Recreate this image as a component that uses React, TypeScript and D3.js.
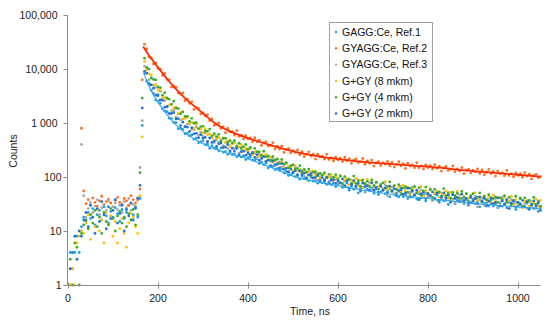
import React from 'react';
import * as d3 from 'd3';

// sampling grid of the decay curves, ns
const times = d3.range(0, 1051, 5);

const seriesNames = ['GAGG:Ce, Ref.1', 'GYAGG:Ce, Ref.2', 'GYAGG:Ce, Ref.3', 'G+GY (8 mkm)', 'G+GY (4 mkm)', 'G+GY (2 mkm)'];
const seriesColors = ['#1fa0e6', '#ff6d1f', '#a8a8a8', '#ffc000', '#3aad2c', '#2372d6'];

const gaggRef1 = [
  null, 4, 2, 4, 8, 4, 12, 18, 15, 22, 17, 26, 13, 20, 24, 16, 28, 19, 14, 23, 18, 27, 21, 15, 25, 17, 22, 30, 16, 20, 26, 18, 40, 900,
  8220, 5950, 5430, 4030, 3550, 2670, 2550, 2330, 1825, 1670,
  1620, 1230, 1210, 1020, 1020, 785, 800, 764, 633, 644,
  581, 599, 499, 523, 432, 447, 466, 397, 405, 340,
  382, 342, 342, 306, 346, 289, 296, 263, 288, 261,
  269, 238, 266, 235, 245, 210, 227, 233, 205, 206,
  220, 178, 188, 170, 182, 147, 158, 157, 137, 143,
  133, 140, 119, 127, 107, 111, 117, 102, 106, 91,
  104, 94, 95, 86, 98, 83, 86, 77, 86, 78,
  82, 73, 82, 72, 77, 66, 72, 78, 64, 66,
  77, 57, 67, 59, 69, 51, 61, 64, 53, 60,
  56, 63, 50, 60, 47, 53, 60, 49, 55, 43,
  55, 48, 50, 43, 55, 43, 47, 40, 49, 43,
  47, 39, 49, 41, 46, 36, 42, 45, 37, 39,
  46, 34, 40, 36, 42, 31, 37, 39, 32, 37,
  35, 40, 32, 38, 30, 34, 39, 32, 35, 28,
  36, 32, 33, 29, 37, 29, 32, 27, 33, 29,
  32, 27, 34, 29, 32, 25, 30, 32, 27, 28,
  33, 25, 29, 26, 31, 23, 27,
];

const gyaggRef2 = [
  null, null, null, null, null, null, 800, 55, 32, 38, 30, 41, 34, 29, 36, 44, 31, 35, 39, 33, 28, 37, 42, 34, 31, 40, 36, 30, 45, 38, 33, 41, 60, 6300,
  29000, 23460, 16730, 16010, 12420, 13000, 10380, 9890, 7640, 8290,
  6400, 6300, 4620, 4800, 4600, 3600, 3435, 3600, 2590, 2756,
  2310, 2464, 1780, 1930, 1866, 1479, 1545, 1362, 1432, 1107,
  1188, 908, 944, 1001, 799, 843, 660, 795, 686, 694,
  597, 720, 567, 594, 506, 581, 509, 532, 451, 533,
  448, 480, 385, 432, 449, 376, 385, 431, 330, 371,
  330, 373, 285, 326, 335, 279, 308, 286, 316, 259,
  294, 238, 263, 292, 244, 265, 215, 265, 235, 243,
  214, 263, 212, 227, 198, 232, 208, 223, 193, 233,
  200, 218, 179, 205, 217, 185, 193, 220, 173, 198,
  179, 206, 159, 185, 193, 164, 183, 173, 195, 162,
  187, 153, 171, 192, 161, 177, 144, 180, 161, 168,
  149, 184, 149, 161, 141, 167, 150, 162, 140, 169,
  145, 158, 129, 148, 157, 133, 140, 160, 125, 142,
  129, 149, 115, 134, 139, 118, 133, 125, 141, 117,
  135, 110, 123, 138, 116, 127, 104, 129, 115, 119,
  106, 132, 107, 115, 101, 119, 107, 114, 99, 121,
  104, 113, 92, 106, 112, 97, 101,
];

const gyaggRef3 = [
  null, null, null, null, null, null, 400, 45, 18, 26, 34, 22, 29, 38, 20, 27, 31, 24, 36, 19, 28, 33, 25, 30, 22, 35, 27, 40, 24, 31, 29, 37, 150, 1100,
  11340, 10130, 6345, 6847, 4960, 4538, 3406, 3876, 2652, 2580,
  1953, 2146, 1699, 1685, 1295, 1487, 1140, 1178, 855, 951,
  957, 754, 755, 838, 595, 674, 575, 653, 460, 536,
  543, 435, 486, 441, 492, 382, 440, 336, 375, 419,
  334, 363, 277, 354, 303, 313, 266, 337, 258, 275,
  228, 268, 228, 240, 197, 239, 194, 209, 159, 182,
  190, 153, 156, 177, 128, 146, 126, 147, 106, 126,
  131, 105, 119, 110, 124, 98, 114, 88, 100, 113,
  91, 100, 78, 99, 86, 90, 77, 107, 74, 83,
  65, 88, 72, 82, 63, 88, 67, 80, 55, 71,
  79, 59, 64, 80, 52, 67, 56, 72, 45, 60,
  65, 48, 58, 54, 66, 47, 62, 43, 52, 64,
  48, 56, 38, 57, 47, 50, 41, 60, 41, 48,
  37, 51, 42, 48, 37, 52, 40, 47, 33, 42,
  47, 36, 39, 49, 32, 41, 35, 44, 28, 38,
  41, 30, 38, 35, 42, 31, 40, 28, 34, 42,
  31, 37, 26, 38, 32, 34, 28, 41, 28, 32,
  26, 35, 29, 33, 26, 36, 28,
];

const ggy8 = [
  null, 1, 2, 1, 6, 8, 10, 9, 14, 20, 7, 18, 12, 25, 10, 16, 6, 22, 13, 19, 8, 15, 6, 11, 17, 9, 5, 14, 21, 18, 12, 9, 45, 550,
  13850, 9594, 8138, 7797, 5092, 5132, 4081, 4168, 2851, 2986,
  2791, 2162, 2191, 1901, 1961, 1485, 1563, 1179, 1213, 1270,
  999, 1033, 794, 931, 785, 781, 661, 783, 605, 626,
  526, 599, 520, 540, 454, 529, 439, 466, 369, 412,
  425, 352, 358, 400, 305, 342, 303, 340, 258, 292,
  296, 242, 262, 239, 261, 209, 234, 185, 201, 217,
  177, 188, 148, 178, 154, 155, 133, 163, 129, 137,
  118, 136, 121, 127, 109, 130, 109, 118, 95, 108,
  113, 95, 99, 110, 86, 98, 88, 106, 70, 88,
  94, 72, 87, 79, 94, 70, 87, 63, 76, 90,
  69, 79, 56, 80, 67, 71, 58, 82, 59, 66,
  54, 69, 58, 65, 52, 70, 55, 64, 46, 58,
  64, 50, 53, 66, 44, 56, 47, 59, 39, 51,
  54, 42, 50, 46, 55, 41, 52, 37, 45, 54,
  41, 48, 34, 49, 41, 44, 36, 51, 37, 42,
  34, 44, 37, 42, 34, 46, 36, 42, 30, 38,
  42, 33, 36, 44, 30, 38, 32, 40, 27, 35,
  37, 29, 35, 32, 39, 29, 37,
];

const ggy4 = [
  null, 3, 1, 6, 5, 1, 9, 13, 16, 11, 20, 14, 24, 12, 18, 9, 22, 15, 13, 26, 17, 10, 19, 23, 14, 18, 12, 21, 16, 25, 13, 20, 120, 2900,
  15870, 10663, 9960, 6820, 6400, 6302, 4654, 4527, 3265, 3644,
  2914, 2774, 2227, 2536, 1885, 1847, 1473, 1601, 1326, 1327,
  1075, 1223, 990, 1020, 785, 860, 869, 708, 704, 771,
  578, 638, 557, 618, 463, 519, 522, 431, 469, 429,
  469, 377, 422, 337, 366, 400, 329, 352, 279, 338,
  292, 293, 250, 300, 236, 245, 207, 237, 207, 214,
  180, 211, 175, 185, 147, 162, 167, 141, 144, 162,
  125, 139, 124, 140, 107, 122, 125, 105, 117, 108,
  120, 98, 112, 90, 99, 110, 92, 103, 75, 102,
  86, 91, 76, 104, 76, 84, 68, 88, 75, 83,
  67, 88, 70, 80, 59, 73, 78, 62, 67, 81,
  56, 69, 59, 72, 49, 62, 66, 52, 62, 57,
  67, 51, 63, 46, 55, 65, 50, 58, 42, 59,
  50, 53, 44, 61, 45, 49, 41, 52, 45, 50,
  40, 54, 43, 49, 36, 45, 49, 39, 42, 51,
  35, 44, 38, 47, 32, 40, 43, 34, 41, 38,
  45, 34, 42, 31, 37, 44, 34, 40, 29, 41,
  34, 37, 31, 42, 31, 35, 29,
];

const ggy2 = [
  null, 2, 4, 8, 3, 10, 8, 16, 22, 12, 30, 18, 9, 26, 15, 35, 20, 11, 28, 17, 24, 38, 14, 21, 30, 10, 25, 19, 33, 16, 27, 40, 70, 1900,
  9050, 8380, 5220, 5080, 4420, 3280, 3210, 2680, 2650, 1970,
  2030, 1500, 1500, 1550, 1190, 1200, 896, 1034, 855, 836,
  696, 819, 630, 643, 535, 606, 524, 540, 450, 525,
  435, 464, 368, 412, 424, 352, 357, 398, 304, 341,
  302, 339, 257, 295, 301, 252, 278, 258, 285, 231,
  259, 204, 219, 237, 195, 206, 163, 196, 170, 171,
  147, 177, 139, 145, 123, 140, 122, 130, 110, 131,
  112, 119, 96, 108, 113, 95, 98, 111, 86, 97,
  87, 98, 76, 87, 89, 76, 84, 78, 92, 69,
  85, 62, 73, 86, 67, 76, 55, 77, 66, 69,
  57, 78, 57, 64, 52, 67, 57, 63, 51, 68,
  54, 61, 45, 56, 60, 48, 51, 62, 43, 54,
  46, 57, 38, 49, 52, 40, 48, 45, 53, 40,
  50, 37, 43, 51, 40, 46, 34, 47, 40, 42,
  35, 48, 36, 40, 33, 42, 36, 40, 32, 43,
  35, 40, 29, 36, 40, 32, 34, 41, 29, 36,
  31, 38, 26, 33, 36, 28, 34, 31, 37, 28,
  35, 26, 31, 36, 29, 33, 24,
];

// fitted decay curves (Ref.2 red, Ref.1 light blue)
const fitTimes = [167, 180, 190, 200, 220, 240, 260, 280, 300, 330, 360, 400, 450, 500, 600, 700, 800, 900, 1000, 1050];
const fitRef2 = [26000, 17800, 13800, 10700, 6600, 4220, 2880, 2070, 1500, 944, 700, 525, 389, 299, 214, 178, 155, 129, 110, 102];
const fitRef1Times = [170, 180, 190, 200, 220, 240, 260, 280, 300, 330, 360, 400, 450, 500, 600, 700, 800, 900, 1000, 1050];
const fitRef1 = [7700, 4860, 3290, 2440, 1435, 926, 656, 509, 414, 325, 267, 217, 152, 104, 69, 50, 40, 32.5, 28, 26];

const yTicks = [1, 10, 100, 1000, 10000, 100000];
const yTickLabels = ['1', '10', '100', '1 000', '10,000', '100,000'];
const xTicks = [0, 200, 400, 600, 800, 1000];

const allSeries = [gaggRef1, gyaggRef2, gyaggRef3, ggy8, ggy4, ggy2];

export default function App() {
  const x = d3.scaleLinear().domain([0, 1050]).range([68, 540.5]);
  const y = d3.scaleLog().domain([1, 100000]).range([285, 15]);
  const font = '"Liberation Sans", Arial, sans-serif';
  const axisColor = '#8c8c8c';

  const line = d3.line<number>()
    .x((d, i) => x(fitTimes[i]))
    .y(d => y(d))
    .curve(d3.curveMonotoneX);
  const line1 = d3.line<number>()
    .x((d, i) => x(fitRef1Times[i]))
    .y(d => y(d))
    .curve(d3.curveMonotoneX);

  return (
    <svg width={550} height={324} style={{ position: 'absolute', left: 0, top: 0, background: '#fff' }} fontFamily={font}>
      {allSeries.map((vals, s) => (
        <g key={s} fill={seriesColors[s]}>
          {vals.map((v, i) => v == null ? null : (
            <circle key={i} cx={x(times[i])} cy={y(v)} r={1.4} />
          ))}
        </g>
      ))}
      <path d={line1(fitRef1) || ''} fill="none" stroke="#35a9ee" strokeWidth={1.2} />
      <path d={line(fitRef2) || ''} fill="none" stroke="#ff2a00" strokeWidth={1.8} />

      {/* axes */}
      <line x1={67.5} x2={67.5} y1={15} y2={285} stroke={axisColor} />
      <line x1={67.5} x2={540.5} y1={285.5} y2={285.5} stroke={axisColor} />
      {yTicks.map((t, i) => (
        <g key={t}>
          <line x1={63.5} x2={67.5} y1={Math.round(y(t)) + 0.5} y2={Math.round(y(t)) + 0.5} stroke={axisColor} />
          <text x={t >= 1000 ? 57.5 : 61.5} y={y(t) + 3.8} textAnchor="end" fontSize={10.5} fill="#222">{yTickLabels[i]}</text>
        </g>
      ))}
      {xTicks.map(t => (
        <g key={t}>
          <line x1={Math.round(x(t)) + 0.5} x2={Math.round(x(t)) + 0.5} y1={282.5} y2={288.5} stroke={axisColor} />
          <text x={x(t)} y={301.5} textAnchor="middle" fontSize={10.5} fill="#222">{t}</text>
        </g>
      ))}
      <text x={310} y={315} textAnchor="middle" fontSize={10.5} fill="#222">Time, ns</text>
      <text transform="translate(16.5,151) rotate(-90)" textAnchor="middle" fontSize={10.5} fill="#222">Counts</text>

      {/* legend */}
      <rect x={329.5} y={22.5} width={103} height={99} fill="#fff" stroke="#a0a0a0" />
      {seriesNames.map((name, i) => (
        <g key={name} transform={`translate(0,${32 + i * 16.3})`}>
          <circle cx={336} cy={0} r={1.2} fill={seriesColors[i]} />
          <text x={342} y={3.8} fontSize={10.5} fill="#111">{name}</text>
        </g>
      ))}
    </svg>
  );
}
